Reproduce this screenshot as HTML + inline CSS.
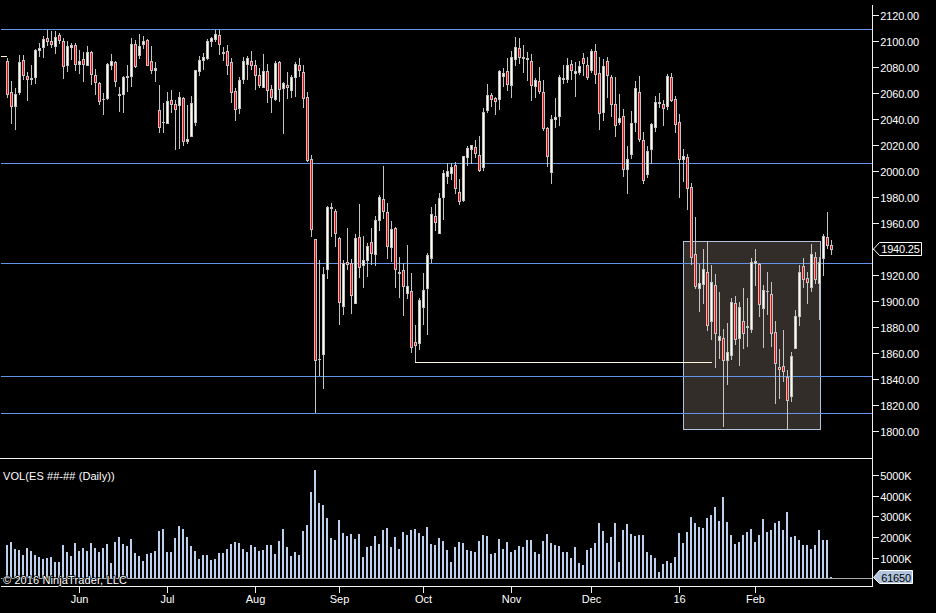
<!DOCTYPE html>
<html><head><meta charset="utf-8"><title>Chart</title>
<style>html,body{margin:0;padding:0;background:#000;overflow:hidden}svg{display:block}text{font-family:"Liberation Sans",Arial,sans-serif;font-size:11px;fill:#fff}</style></head><body>
<svg width="936" height="613" viewBox="0 0 936 613">
<rect x="0" y="0" width="936" height="613" fill="#000"/>
<g shape-rendering="crispEdges">
<rect x="683" y="241" width="138" height="189" fill="#b0c4de"/>
<rect x="684" y="242" width="136" height="187" fill="#322d28"/>
<rect x="1" y="29" width="871" height="1" fill="#6495ed"/>
<rect x="1" y="163" width="871" height="1" fill="#6495ed"/>
<rect x="1" y="263" width="871" height="1" fill="#6495ed"/>
<rect x="1" y="376" width="871" height="1" fill="#6495ed"/>
<rect x="1" y="413" width="871" height="1" fill="#6495ed"/>
<rect x="415" y="362" width="297" height="1" fill="#fff8dc"/>
<rect x="1" y="56" width="6" height="1" fill="#fff8dc"/>
<rect x="7" y="58" width="1" height="40" fill="#c4c4c4"/>
<rect x="6" y="61" width="3" height="34" fill="#c4c4c4"/>
<rect x="7" y="62" width="1" height="32" fill="#ff0000"/>
<rect x="11" y="81" width="1" height="43" fill="#c4c4c4"/>
<rect x="10" y="92" width="3" height="15" fill="#c4c4c4"/>
<rect x="11" y="93" width="1" height="13" fill="#ff0000"/>
<rect x="15" y="88" width="1" height="42" fill="#c4c4c4"/>
<rect x="14" y="94" width="3" height="13" fill="#c4c4c4"/>
<rect x="15" y="95" width="1" height="11" fill="#fffff0"/>
<rect x="19" y="55" width="1" height="40" fill="#c4c4c4"/>
<rect x="18" y="62" width="3" height="31" fill="#c4c4c4"/>
<rect x="19" y="63" width="1" height="29" fill="#fffff0"/>
<rect x="23" y="55" width="1" height="25" fill="#c4c4c4"/>
<rect x="22" y="60" width="3" height="16" fill="#c4c4c4"/>
<rect x="23" y="61" width="1" height="14" fill="#ff0000"/>
<rect x="27" y="72" width="1" height="29" fill="#c4c4c4"/>
<rect x="26" y="76" width="3" height="4" fill="#c4c4c4"/>
<rect x="27" y="77" width="1" height="2" fill="#ff0000"/>
<rect x="31" y="65" width="1" height="20" fill="#c4c4c4"/>
<rect x="30" y="78" width="3" height="2" fill="#c4c4c4"/>
<rect x="35" y="49" width="1" height="35" fill="#c4c4c4"/>
<rect x="34" y="50" width="3" height="28" fill="#c4c4c4"/>
<rect x="35" y="51" width="1" height="26" fill="#fffff0"/>
<rect x="39" y="43" width="1" height="14" fill="#c4c4c4"/>
<rect x="38" y="48" width="3" height="3" fill="#c4c4c4"/>
<rect x="39" y="49" width="1" height="1" fill="#fffff0"/>
<rect x="43" y="36" width="1" height="22" fill="#c4c4c4"/>
<rect x="42" y="39" width="3" height="9" fill="#c4c4c4"/>
<rect x="43" y="40" width="1" height="7" fill="#fffff0"/>
<rect x="47" y="30" width="1" height="16" fill="#c4c4c4"/>
<rect x="46" y="38" width="3" height="4" fill="#c4c4c4"/>
<rect x="47" y="39" width="1" height="2" fill="#ff0000"/>
<rect x="51" y="31" width="1" height="17" fill="#c4c4c4"/>
<rect x="50" y="41" width="3" height="4" fill="#c4c4c4"/>
<rect x="51" y="42" width="1" height="2" fill="#ff0000"/>
<rect x="55" y="31" width="1" height="23" fill="#c4c4c4"/>
<rect x="54" y="37" width="3" height="10" fill="#c4c4c4"/>
<rect x="55" y="38" width="1" height="8" fill="#fffff0"/>
<rect x="59" y="33" width="1" height="11" fill="#c4c4c4"/>
<rect x="58" y="35" width="3" height="6" fill="#c4c4c4"/>
<rect x="59" y="36" width="1" height="4" fill="#ff0000"/>
<rect x="63" y="38" width="1" height="41" fill="#c4c4c4"/>
<rect x="62" y="41" width="3" height="26" fill="#c4c4c4"/>
<rect x="63" y="42" width="1" height="24" fill="#ff0000"/>
<rect x="67" y="41" width="1" height="31" fill="#c4c4c4"/>
<rect x="66" y="46" width="3" height="20" fill="#c4c4c4"/>
<rect x="67" y="47" width="1" height="18" fill="#fffff0"/>
<rect x="71" y="43" width="1" height="17" fill="#c4c4c4"/>
<rect x="70" y="45" width="3" height="3" fill="#c4c4c4"/>
<rect x="71" y="46" width="1" height="1" fill="#fffff0"/>
<rect x="75" y="43" width="1" height="28" fill="#c4c4c4"/>
<rect x="74" y="45" width="3" height="20" fill="#c4c4c4"/>
<rect x="75" y="46" width="1" height="18" fill="#ff0000"/>
<rect x="79" y="50" width="1" height="24" fill="#c4c4c4"/>
<rect x="78" y="61" width="3" height="4" fill="#c4c4c4"/>
<rect x="79" y="62" width="1" height="2" fill="#fffff0"/>
<rect x="83" y="52" width="1" height="30" fill="#c4c4c4"/>
<rect x="82" y="59" width="3" height="6" fill="#c4c4c4"/>
<rect x="83" y="60" width="1" height="4" fill="#ff0000"/>
<rect x="87" y="46" width="1" height="20" fill="#c4c4c4"/>
<rect x="86" y="52" width="3" height="14" fill="#c4c4c4"/>
<rect x="87" y="53" width="1" height="12" fill="#fffff0"/>
<rect x="91" y="51" width="1" height="34" fill="#c4c4c4"/>
<rect x="90" y="52" width="3" height="23" fill="#c4c4c4"/>
<rect x="91" y="53" width="1" height="21" fill="#ff0000"/>
<rect x="95" y="69" width="1" height="26" fill="#c4c4c4"/>
<rect x="94" y="75" width="3" height="8" fill="#c4c4c4"/>
<rect x="95" y="76" width="1" height="6" fill="#ff0000"/>
<rect x="99" y="82" width="1" height="23" fill="#c4c4c4"/>
<rect x="98" y="83" width="3" height="19" fill="#c4c4c4"/>
<rect x="99" y="84" width="1" height="17" fill="#ff0000"/>
<rect x="103" y="93" width="1" height="22" fill="#c4c4c4"/>
<rect x="102" y="99" width="3" height="1" fill="#c4c4c4"/>
<rect x="107" y="63" width="1" height="37" fill="#c4c4c4"/>
<rect x="106" y="64" width="3" height="35" fill="#c4c4c4"/>
<rect x="107" y="65" width="1" height="33" fill="#fffff0"/>
<rect x="111" y="54" width="1" height="16" fill="#c4c4c4"/>
<rect x="110" y="61" width="3" height="5" fill="#c4c4c4"/>
<rect x="111" y="62" width="1" height="3" fill="#fffff0"/>
<rect x="115" y="61" width="1" height="26" fill="#c4c4c4"/>
<rect x="114" y="62" width="3" height="20" fill="#c4c4c4"/>
<rect x="115" y="63" width="1" height="18" fill="#ff0000"/>
<rect x="119" y="87" width="1" height="25" fill="#c4c4c4"/>
<rect x="118" y="94" width="3" height="2" fill="#c4c4c4"/>
<rect x="123" y="76" width="1" height="37" fill="#c4c4c4"/>
<rect x="122" y="77" width="3" height="18" fill="#c4c4c4"/>
<rect x="123" y="78" width="1" height="16" fill="#fffff0"/>
<rect x="127" y="65" width="1" height="27" fill="#c4c4c4"/>
<rect x="126" y="76" width="3" height="2" fill="#c4c4c4"/>
<rect x="131" y="38" width="1" height="49" fill="#c4c4c4"/>
<rect x="130" y="44" width="3" height="33" fill="#c4c4c4"/>
<rect x="131" y="45" width="1" height="31" fill="#fffff0"/>
<rect x="135" y="40" width="1" height="28" fill="#c4c4c4"/>
<rect x="134" y="44" width="3" height="23" fill="#c4c4c4"/>
<rect x="135" y="45" width="1" height="21" fill="#ff0000"/>
<rect x="139" y="34" width="1" height="25" fill="#c4c4c4"/>
<rect x="138" y="46" width="3" height="10" fill="#c4c4c4"/>
<rect x="139" y="47" width="1" height="8" fill="#fffff0"/>
<rect x="143" y="36" width="1" height="13" fill="#c4c4c4"/>
<rect x="142" y="41" width="3" height="4" fill="#c4c4c4"/>
<rect x="143" y="42" width="1" height="2" fill="#fffff0"/>
<rect x="147" y="39" width="1" height="27" fill="#c4c4c4"/>
<rect x="146" y="40" width="3" height="26" fill="#c4c4c4"/>
<rect x="147" y="41" width="1" height="24" fill="#ff0000"/>
<rect x="151" y="46" width="1" height="28" fill="#c4c4c4"/>
<rect x="150" y="61" width="3" height="10" fill="#c4c4c4"/>
<rect x="151" y="62" width="1" height="8" fill="#ff0000"/>
<rect x="155" y="62" width="1" height="20" fill="#c4c4c4"/>
<rect x="154" y="68" width="3" height="3" fill="#c4c4c4"/>
<rect x="155" y="69" width="1" height="1" fill="#fffff0"/>
<rect x="159" y="85" width="1" height="48" fill="#c4c4c4"/>
<rect x="158" y="110" width="3" height="18" fill="#c4c4c4"/>
<rect x="159" y="111" width="1" height="16" fill="#ff0000"/>
<rect x="163" y="103" width="1" height="30" fill="#c4c4c4"/>
<rect x="162" y="122" width="3" height="1" fill="#c4c4c4"/>
<rect x="167" y="92" width="1" height="32" fill="#c4c4c4"/>
<rect x="166" y="101" width="3" height="23" fill="#c4c4c4"/>
<rect x="167" y="102" width="1" height="21" fill="#fffff0"/>
<rect x="171" y="90" width="1" height="23" fill="#c4c4c4"/>
<rect x="170" y="100" width="3" height="5" fill="#c4c4c4"/>
<rect x="171" y="101" width="1" height="3" fill="#ff0000"/>
<rect x="175" y="100" width="1" height="50" fill="#c4c4c4"/>
<rect x="174" y="104" width="3" height="6" fill="#c4c4c4"/>
<rect x="175" y="105" width="1" height="4" fill="#ff0000"/>
<rect x="179" y="92" width="1" height="57" fill="#c4c4c4"/>
<rect x="178" y="97" width="3" height="9" fill="#c4c4c4"/>
<rect x="179" y="98" width="1" height="7" fill="#fffff0"/>
<rect x="183" y="97" width="1" height="49" fill="#c4c4c4"/>
<rect x="182" y="98" width="3" height="44" fill="#c4c4c4"/>
<rect x="183" y="99" width="1" height="42" fill="#ff0000"/>
<rect x="187" y="105" width="1" height="39" fill="#c4c4c4"/>
<rect x="186" y="139" width="3" height="3" fill="#c4c4c4"/>
<rect x="187" y="140" width="1" height="1" fill="#fffff0"/>
<rect x="191" y="96" width="1" height="41" fill="#c4c4c4"/>
<rect x="190" y="103" width="3" height="34" fill="#c4c4c4"/>
<rect x="191" y="104" width="1" height="32" fill="#fffff0"/>
<rect x="195" y="70" width="1" height="56" fill="#c4c4c4"/>
<rect x="194" y="70" width="3" height="53" fill="#c4c4c4"/>
<rect x="195" y="71" width="1" height="51" fill="#fffff0"/>
<rect x="199" y="56" width="1" height="20" fill="#c4c4c4"/>
<rect x="198" y="60" width="3" height="12" fill="#c4c4c4"/>
<rect x="199" y="61" width="1" height="10" fill="#fffff0"/>
<rect x="203" y="53" width="1" height="17" fill="#c4c4c4"/>
<rect x="202" y="57" width="3" height="4" fill="#c4c4c4"/>
<rect x="203" y="58" width="1" height="2" fill="#fffff0"/>
<rect x="207" y="39" width="1" height="21" fill="#c4c4c4"/>
<rect x="206" y="41" width="3" height="18" fill="#c4c4c4"/>
<rect x="207" y="42" width="1" height="16" fill="#fffff0"/>
<rect x="211" y="37" width="1" height="10" fill="#c4c4c4"/>
<rect x="210" y="38" width="3" height="4" fill="#c4c4c4"/>
<rect x="211" y="39" width="1" height="2" fill="#fffff0"/>
<rect x="215" y="30" width="1" height="12" fill="#c4c4c4"/>
<rect x="214" y="34" width="3" height="6" fill="#c4c4c4"/>
<rect x="215" y="35" width="1" height="4" fill="#fffff0"/>
<rect x="219" y="30" width="1" height="25" fill="#c4c4c4"/>
<rect x="218" y="35" width="3" height="10" fill="#c4c4c4"/>
<rect x="219" y="36" width="1" height="8" fill="#ff0000"/>
<rect x="223" y="47" width="1" height="14" fill="#c4c4c4"/>
<rect x="222" y="52" width="3" height="2" fill="#c4c4c4"/>
<rect x="227" y="45" width="1" height="30" fill="#c4c4c4"/>
<rect x="226" y="51" width="3" height="15" fill="#c4c4c4"/>
<rect x="227" y="52" width="1" height="13" fill="#ff0000"/>
<rect x="231" y="58" width="1" height="45" fill="#c4c4c4"/>
<rect x="230" y="62" width="3" height="31" fill="#c4c4c4"/>
<rect x="231" y="63" width="1" height="29" fill="#ff0000"/>
<rect x="235" y="88" width="1" height="33" fill="#c4c4c4"/>
<rect x="234" y="91" width="3" height="19" fill="#c4c4c4"/>
<rect x="235" y="92" width="1" height="17" fill="#ff0000"/>
<rect x="239" y="77" width="1" height="37" fill="#c4c4c4"/>
<rect x="238" y="80" width="3" height="29" fill="#c4c4c4"/>
<rect x="239" y="81" width="1" height="27" fill="#fffff0"/>
<rect x="243" y="57" width="1" height="27" fill="#c4c4c4"/>
<rect x="242" y="61" width="3" height="19" fill="#c4c4c4"/>
<rect x="243" y="62" width="1" height="17" fill="#fffff0"/>
<rect x="247" y="56" width="1" height="24" fill="#c4c4c4"/>
<rect x="246" y="58" width="3" height="7" fill="#c4c4c4"/>
<rect x="247" y="59" width="1" height="5" fill="#fffff0"/>
<rect x="251" y="51" width="1" height="19" fill="#c4c4c4"/>
<rect x="250" y="61" width="3" height="5" fill="#c4c4c4"/>
<rect x="251" y="62" width="1" height="3" fill="#ff0000"/>
<rect x="255" y="60" width="1" height="30" fill="#c4c4c4"/>
<rect x="254" y="65" width="3" height="11" fill="#c4c4c4"/>
<rect x="255" y="66" width="1" height="9" fill="#ff0000"/>
<rect x="259" y="68" width="1" height="20" fill="#c4c4c4"/>
<rect x="258" y="75" width="3" height="11" fill="#c4c4c4"/>
<rect x="259" y="76" width="1" height="9" fill="#ff0000"/>
<rect x="263" y="54" width="1" height="34" fill="#c4c4c4"/>
<rect x="262" y="71" width="3" height="17" fill="#c4c4c4"/>
<rect x="263" y="72" width="1" height="15" fill="#fffff0"/>
<rect x="267" y="64" width="1" height="39" fill="#c4c4c4"/>
<rect x="266" y="71" width="3" height="20" fill="#c4c4c4"/>
<rect x="267" y="72" width="1" height="18" fill="#ff0000"/>
<rect x="271" y="85" width="1" height="28" fill="#c4c4c4"/>
<rect x="270" y="89" width="3" height="9" fill="#c4c4c4"/>
<rect x="271" y="90" width="1" height="7" fill="#ff0000"/>
<rect x="275" y="61" width="1" height="40" fill="#c4c4c4"/>
<rect x="274" y="63" width="3" height="37" fill="#c4c4c4"/>
<rect x="275" y="64" width="1" height="35" fill="#fffff0"/>
<rect x="279" y="61" width="1" height="41" fill="#c4c4c4"/>
<rect x="278" y="62" width="3" height="28" fill="#c4c4c4"/>
<rect x="279" y="63" width="1" height="26" fill="#ff0000"/>
<rect x="283" y="82" width="1" height="52" fill="#c4c4c4"/>
<rect x="282" y="83" width="3" height="6" fill="#c4c4c4"/>
<rect x="283" y="84" width="1" height="4" fill="#fffff0"/>
<rect x="287" y="72" width="1" height="27" fill="#c4c4c4"/>
<rect x="286" y="85" width="3" height="3" fill="#c4c4c4"/>
<rect x="287" y="86" width="1" height="1" fill="#ff0000"/>
<rect x="291" y="75" width="1" height="23" fill="#c4c4c4"/>
<rect x="290" y="77" width="3" height="14" fill="#c4c4c4"/>
<rect x="291" y="78" width="1" height="12" fill="#fffff0"/>
<rect x="295" y="62" width="1" height="35" fill="#c4c4c4"/>
<rect x="294" y="64" width="3" height="14" fill="#c4c4c4"/>
<rect x="295" y="65" width="1" height="12" fill="#fffff0"/>
<rect x="299" y="58" width="1" height="19" fill="#c4c4c4"/>
<rect x="298" y="65" width="3" height="6" fill="#c4c4c4"/>
<rect x="299" y="66" width="1" height="4" fill="#ff0000"/>
<rect x="303" y="65" width="1" height="43" fill="#c4c4c4"/>
<rect x="302" y="72" width="3" height="27" fill="#c4c4c4"/>
<rect x="303" y="73" width="1" height="25" fill="#ff0000"/>
<rect x="307" y="92" width="1" height="70" fill="#c4c4c4"/>
<rect x="306" y="97" width="3" height="64" fill="#c4c4c4"/>
<rect x="307" y="98" width="1" height="62" fill="#ff0000"/>
<rect x="311" y="155" width="1" height="82" fill="#c4c4c4"/>
<rect x="310" y="159" width="3" height="71" fill="#c4c4c4"/>
<rect x="311" y="160" width="1" height="69" fill="#ff0000"/>
<rect x="315" y="239" width="1" height="174" fill="#c4c4c4"/>
<rect x="314" y="239" width="3" height="122" fill="#c4c4c4"/>
<rect x="315" y="240" width="1" height="120" fill="#ff0000"/>
<rect x="319" y="260" width="1" height="116" fill="#c4c4c4"/>
<rect x="318" y="359" width="3" height="1" fill="#c4c4c4"/>
<rect x="323" y="267" width="1" height="122" fill="#c4c4c4"/>
<rect x="322" y="274" width="3" height="81" fill="#c4c4c4"/>
<rect x="323" y="275" width="1" height="79" fill="#fffff0"/>
<rect x="327" y="206" width="1" height="73" fill="#c4c4c4"/>
<rect x="326" y="207" width="3" height="63" fill="#c4c4c4"/>
<rect x="327" y="208" width="1" height="61" fill="#fffff0"/>
<rect x="331" y="203" width="1" height="34" fill="#c4c4c4"/>
<rect x="330" y="207" width="3" height="2" fill="#c4c4c4"/>
<rect x="335" y="209" width="1" height="38" fill="#c4c4c4"/>
<rect x="334" y="211" width="3" height="23" fill="#c4c4c4"/>
<rect x="335" y="212" width="1" height="21" fill="#ff0000"/>
<rect x="339" y="237" width="1" height="88" fill="#c4c4c4"/>
<rect x="338" y="238" width="3" height="65" fill="#c4c4c4"/>
<rect x="339" y="239" width="1" height="63" fill="#ff0000"/>
<rect x="343" y="260" width="1" height="55" fill="#c4c4c4"/>
<rect x="342" y="263" width="3" height="44" fill="#c4c4c4"/>
<rect x="343" y="264" width="1" height="42" fill="#fffff0"/>
<rect x="347" y="228" width="1" height="42" fill="#c4c4c4"/>
<rect x="346" y="262" width="3" height="3" fill="#c4c4c4"/>
<rect x="347" y="263" width="1" height="1" fill="#ff0000"/>
<rect x="351" y="259" width="1" height="55" fill="#c4c4c4"/>
<rect x="350" y="263" width="3" height="33" fill="#c4c4c4"/>
<rect x="351" y="264" width="1" height="31" fill="#ff0000"/>
<rect x="355" y="234" width="1" height="70" fill="#c4c4c4"/>
<rect x="354" y="238" width="3" height="66" fill="#c4c4c4"/>
<rect x="355" y="239" width="1" height="64" fill="#fffff0"/>
<rect x="359" y="204" width="1" height="74" fill="#c4c4c4"/>
<rect x="358" y="237" width="3" height="31" fill="#c4c4c4"/>
<rect x="359" y="238" width="1" height="29" fill="#ff0000"/>
<rect x="363" y="236" width="1" height="52" fill="#c4c4c4"/>
<rect x="362" y="260" width="3" height="6" fill="#c4c4c4"/>
<rect x="363" y="261" width="1" height="4" fill="#fffff0"/>
<rect x="367" y="243" width="1" height="34" fill="#c4c4c4"/>
<rect x="366" y="246" width="3" height="15" fill="#c4c4c4"/>
<rect x="367" y="247" width="1" height="13" fill="#fffff0"/>
<rect x="371" y="228" width="1" height="37" fill="#c4c4c4"/>
<rect x="370" y="242" width="3" height="12" fill="#c4c4c4"/>
<rect x="371" y="243" width="1" height="10" fill="#ff0000"/>
<rect x="375" y="216" width="1" height="50" fill="#c4c4c4"/>
<rect x="374" y="220" width="3" height="35" fill="#c4c4c4"/>
<rect x="375" y="221" width="1" height="33" fill="#fffff0"/>
<rect x="379" y="195" width="1" height="36" fill="#c4c4c4"/>
<rect x="378" y="197" width="3" height="24" fill="#c4c4c4"/>
<rect x="379" y="198" width="1" height="22" fill="#fffff0"/>
<rect x="383" y="166" width="1" height="53" fill="#c4c4c4"/>
<rect x="382" y="199" width="3" height="13" fill="#c4c4c4"/>
<rect x="383" y="200" width="1" height="11" fill="#ff0000"/>
<rect x="387" y="203" width="1" height="56" fill="#c4c4c4"/>
<rect x="386" y="212" width="3" height="35" fill="#c4c4c4"/>
<rect x="387" y="213" width="1" height="33" fill="#ff0000"/>
<rect x="391" y="221" width="1" height="41" fill="#c4c4c4"/>
<rect x="390" y="229" width="3" height="19" fill="#c4c4c4"/>
<rect x="391" y="230" width="1" height="17" fill="#fffff0"/>
<rect x="395" y="227" width="1" height="61" fill="#c4c4c4"/>
<rect x="394" y="228" width="3" height="42" fill="#c4c4c4"/>
<rect x="395" y="229" width="1" height="40" fill="#ff0000"/>
<rect x="399" y="257" width="1" height="41" fill="#c4c4c4"/>
<rect x="398" y="272" width="3" height="2" fill="#c4c4c4"/>
<rect x="403" y="263" width="1" height="53" fill="#c4c4c4"/>
<rect x="402" y="270" width="3" height="17" fill="#c4c4c4"/>
<rect x="403" y="271" width="1" height="15" fill="#ff0000"/>
<rect x="407" y="245" width="1" height="54" fill="#c4c4c4"/>
<rect x="406" y="286" width="3" height="8" fill="#c4c4c4"/>
<rect x="407" y="287" width="1" height="6" fill="#fffff0"/>
<rect x="411" y="273" width="1" height="80" fill="#c4c4c4"/>
<rect x="410" y="291" width="3" height="57" fill="#c4c4c4"/>
<rect x="411" y="292" width="1" height="55" fill="#ff0000"/>
<rect x="415" y="325" width="1" height="37" fill="#c4c4c4"/>
<rect x="414" y="342" width="3" height="4" fill="#c4c4c4"/>
<rect x="415" y="343" width="1" height="2" fill="#ff0000"/>
<rect x="419" y="298" width="1" height="52" fill="#c4c4c4"/>
<rect x="418" y="300" width="3" height="44" fill="#c4c4c4"/>
<rect x="419" y="301" width="1" height="42" fill="#fffff0"/>
<rect x="423" y="273" width="1" height="52" fill="#c4c4c4"/>
<rect x="422" y="290" width="3" height="18" fill="#c4c4c4"/>
<rect x="423" y="291" width="1" height="16" fill="#fffff0"/>
<rect x="427" y="253" width="1" height="82" fill="#c4c4c4"/>
<rect x="426" y="255" width="3" height="34" fill="#c4c4c4"/>
<rect x="427" y="256" width="1" height="32" fill="#fffff0"/>
<rect x="431" y="207" width="1" height="56" fill="#c4c4c4"/>
<rect x="430" y="214" width="3" height="45" fill="#c4c4c4"/>
<rect x="431" y="215" width="1" height="43" fill="#fffff0"/>
<rect x="435" y="204" width="1" height="27" fill="#c4c4c4"/>
<rect x="434" y="216" width="3" height="7" fill="#c4c4c4"/>
<rect x="435" y="217" width="1" height="5" fill="#ff0000"/>
<rect x="439" y="193" width="1" height="41" fill="#c4c4c4"/>
<rect x="438" y="198" width="3" height="36" fill="#c4c4c4"/>
<rect x="439" y="199" width="1" height="34" fill="#fffff0"/>
<rect x="443" y="170" width="1" height="50" fill="#c4c4c4"/>
<rect x="442" y="173" width="3" height="25" fill="#c4c4c4"/>
<rect x="443" y="174" width="1" height="23" fill="#fffff0"/>
<rect x="447" y="163" width="1" height="21" fill="#c4c4c4"/>
<rect x="446" y="171" width="3" height="6" fill="#c4c4c4"/>
<rect x="447" y="172" width="1" height="4" fill="#fffff0"/>
<rect x="451" y="163" width="1" height="17" fill="#c4c4c4"/>
<rect x="450" y="167" width="3" height="7" fill="#c4c4c4"/>
<rect x="451" y="168" width="1" height="5" fill="#fffff0"/>
<rect x="455" y="162" width="1" height="32" fill="#c4c4c4"/>
<rect x="454" y="165" width="3" height="24" fill="#c4c4c4"/>
<rect x="455" y="166" width="1" height="22" fill="#ff0000"/>
<rect x="459" y="179" width="1" height="26" fill="#c4c4c4"/>
<rect x="458" y="192" width="3" height="10" fill="#c4c4c4"/>
<rect x="459" y="193" width="1" height="8" fill="#ff0000"/>
<rect x="463" y="156" width="1" height="46" fill="#c4c4c4"/>
<rect x="462" y="156" width="3" height="45" fill="#c4c4c4"/>
<rect x="463" y="157" width="1" height="43" fill="#fffff0"/>
<rect x="467" y="146" width="1" height="20" fill="#c4c4c4"/>
<rect x="466" y="148" width="3" height="10" fill="#c4c4c4"/>
<rect x="467" y="149" width="1" height="8" fill="#fffff0"/>
<rect x="471" y="145" width="1" height="19" fill="#c4c4c4"/>
<rect x="470" y="145" width="3" height="5" fill="#c4c4c4"/>
<rect x="471" y="146" width="1" height="3" fill="#fffff0"/>
<rect x="475" y="140" width="1" height="18" fill="#c4c4c4"/>
<rect x="474" y="147" width="3" height="7" fill="#c4c4c4"/>
<rect x="475" y="148" width="1" height="5" fill="#ff0000"/>
<rect x="479" y="136" width="1" height="36" fill="#c4c4c4"/>
<rect x="478" y="155" width="3" height="16" fill="#c4c4c4"/>
<rect x="479" y="156" width="1" height="14" fill="#ff0000"/>
<rect x="483" y="108" width="1" height="63" fill="#c4c4c4"/>
<rect x="482" y="112" width="3" height="56" fill="#c4c4c4"/>
<rect x="483" y="113" width="1" height="54" fill="#fffff0"/>
<rect x="487" y="84" width="1" height="29" fill="#c4c4c4"/>
<rect x="486" y="95" width="3" height="16" fill="#c4c4c4"/>
<rect x="487" y="96" width="1" height="14" fill="#fffff0"/>
<rect x="491" y="93" width="1" height="14" fill="#c4c4c4"/>
<rect x="490" y="95" width="3" height="5" fill="#c4c4c4"/>
<rect x="491" y="96" width="1" height="3" fill="#ff0000"/>
<rect x="495" y="97" width="1" height="18" fill="#c4c4c4"/>
<rect x="494" y="98" width="3" height="4" fill="#c4c4c4"/>
<rect x="495" y="99" width="1" height="2" fill="#ff0000"/>
<rect x="499" y="70" width="1" height="40" fill="#c4c4c4"/>
<rect x="498" y="71" width="3" height="29" fill="#c4c4c4"/>
<rect x="499" y="72" width="1" height="27" fill="#fffff0"/>
<rect x="503" y="68" width="1" height="19" fill="#c4c4c4"/>
<rect x="502" y="73" width="3" height="4" fill="#c4c4c4"/>
<rect x="503" y="74" width="1" height="2" fill="#fffff0"/>
<rect x="507" y="58" width="1" height="33" fill="#c4c4c4"/>
<rect x="506" y="71" width="3" height="14" fill="#c4c4c4"/>
<rect x="507" y="72" width="1" height="12" fill="#ff0000"/>
<rect x="511" y="51" width="1" height="47" fill="#c4c4c4"/>
<rect x="510" y="57" width="3" height="29" fill="#c4c4c4"/>
<rect x="511" y="58" width="1" height="27" fill="#fffff0"/>
<rect x="515" y="37" width="1" height="29" fill="#c4c4c4"/>
<rect x="514" y="47" width="3" height="13" fill="#c4c4c4"/>
<rect x="515" y="48" width="1" height="11" fill="#fffff0"/>
<rect x="519" y="38" width="1" height="26" fill="#c4c4c4"/>
<rect x="518" y="48" width="3" height="10" fill="#c4c4c4"/>
<rect x="519" y="49" width="1" height="8" fill="#ff0000"/>
<rect x="523" y="45" width="1" height="28" fill="#c4c4c4"/>
<rect x="522" y="57" width="3" height="2" fill="#c4c4c4"/>
<rect x="527" y="52" width="1" height="29" fill="#c4c4c4"/>
<rect x="526" y="58" width="3" height="2" fill="#c4c4c4"/>
<rect x="531" y="54" width="1" height="47" fill="#c4c4c4"/>
<rect x="530" y="61" width="3" height="25" fill="#c4c4c4"/>
<rect x="531" y="62" width="1" height="23" fill="#ff0000"/>
<rect x="535" y="78" width="1" height="20" fill="#c4c4c4"/>
<rect x="534" y="80" width="3" height="7" fill="#c4c4c4"/>
<rect x="535" y="81" width="1" height="5" fill="#fffff0"/>
<rect x="539" y="67" width="1" height="27" fill="#c4c4c4"/>
<rect x="538" y="81" width="3" height="11" fill="#c4c4c4"/>
<rect x="539" y="82" width="1" height="9" fill="#ff0000"/>
<rect x="543" y="80" width="1" height="51" fill="#c4c4c4"/>
<rect x="542" y="92" width="3" height="37" fill="#c4c4c4"/>
<rect x="543" y="93" width="1" height="35" fill="#ff0000"/>
<rect x="547" y="127" width="1" height="40" fill="#c4c4c4"/>
<rect x="546" y="128" width="3" height="29" fill="#c4c4c4"/>
<rect x="547" y="129" width="1" height="27" fill="#ff0000"/>
<rect x="551" y="115" width="1" height="69" fill="#c4c4c4"/>
<rect x="550" y="119" width="3" height="54" fill="#c4c4c4"/>
<rect x="551" y="120" width="1" height="52" fill="#fffff0"/>
<rect x="555" y="98" width="1" height="30" fill="#c4c4c4"/>
<rect x="554" y="117" width="3" height="3" fill="#c4c4c4"/>
<rect x="555" y="118" width="1" height="1" fill="#fffff0"/>
<rect x="559" y="75" width="1" height="51" fill="#c4c4c4"/>
<rect x="558" y="77" width="3" height="40" fill="#c4c4c4"/>
<rect x="559" y="78" width="1" height="38" fill="#fffff0"/>
<rect x="563" y="65" width="1" height="19" fill="#c4c4c4"/>
<rect x="562" y="78" width="3" height="2" fill="#c4c4c4"/>
<rect x="567" y="58" width="1" height="25" fill="#c4c4c4"/>
<rect x="566" y="65" width="3" height="15" fill="#c4c4c4"/>
<rect x="567" y="66" width="1" height="13" fill="#fffff0"/>
<rect x="571" y="60" width="1" height="20" fill="#c4c4c4"/>
<rect x="570" y="64" width="3" height="7" fill="#c4c4c4"/>
<rect x="571" y="65" width="1" height="5" fill="#ff0000"/>
<rect x="575" y="62" width="1" height="35" fill="#c4c4c4"/>
<rect x="574" y="71" width="3" height="3" fill="#c4c4c4"/>
<rect x="575" y="72" width="1" height="1" fill="#fffff0"/>
<rect x="579" y="61" width="1" height="14" fill="#c4c4c4"/>
<rect x="578" y="66" width="3" height="7" fill="#c4c4c4"/>
<rect x="579" y="67" width="1" height="5" fill="#fffff0"/>
<rect x="583" y="53" width="1" height="23" fill="#c4c4c4"/>
<rect x="582" y="58" width="3" height="6" fill="#c4c4c4"/>
<rect x="583" y="59" width="1" height="4" fill="#ff0000"/>
<rect x="587" y="57" width="1" height="23" fill="#c4c4c4"/>
<rect x="586" y="65" width="3" height="13" fill="#c4c4c4"/>
<rect x="587" y="66" width="1" height="11" fill="#ff0000"/>
<rect x="591" y="49" width="1" height="24" fill="#c4c4c4"/>
<rect x="590" y="51" width="3" height="20" fill="#c4c4c4"/>
<rect x="591" y="52" width="1" height="18" fill="#fffff0"/>
<rect x="595" y="44" width="1" height="40" fill="#c4c4c4"/>
<rect x="594" y="51" width="3" height="24" fill="#c4c4c4"/>
<rect x="595" y="52" width="1" height="22" fill="#ff0000"/>
<rect x="599" y="57" width="1" height="73" fill="#c4c4c4"/>
<rect x="598" y="73" width="3" height="41" fill="#c4c4c4"/>
<rect x="599" y="74" width="1" height="39" fill="#ff0000"/>
<rect x="603" y="59" width="1" height="62" fill="#c4c4c4"/>
<rect x="602" y="66" width="3" height="47" fill="#c4c4c4"/>
<rect x="603" y="67" width="1" height="45" fill="#fffff0"/>
<rect x="607" y="57" width="1" height="41" fill="#c4c4c4"/>
<rect x="606" y="61" width="3" height="15" fill="#c4c4c4"/>
<rect x="607" y="62" width="1" height="13" fill="#ff0000"/>
<rect x="611" y="75" width="1" height="42" fill="#c4c4c4"/>
<rect x="610" y="77" width="3" height="28" fill="#c4c4c4"/>
<rect x="611" y="78" width="1" height="26" fill="#ff0000"/>
<rect x="615" y="77" width="1" height="60" fill="#c4c4c4"/>
<rect x="614" y="104" width="3" height="22" fill="#c4c4c4"/>
<rect x="615" y="105" width="1" height="20" fill="#ff0000"/>
<rect x="619" y="94" width="1" height="31" fill="#c4c4c4"/>
<rect x="618" y="118" width="3" height="5" fill="#c4c4c4"/>
<rect x="619" y="119" width="1" height="3" fill="#fffff0"/>
<rect x="623" y="109" width="1" height="68" fill="#c4c4c4"/>
<rect x="622" y="116" width="3" height="54" fill="#c4c4c4"/>
<rect x="623" y="117" width="1" height="52" fill="#ff0000"/>
<rect x="627" y="146" width="1" height="48" fill="#c4c4c4"/>
<rect x="626" y="159" width="3" height="11" fill="#c4c4c4"/>
<rect x="627" y="160" width="1" height="9" fill="#fffff0"/>
<rect x="631" y="111" width="1" height="48" fill="#c4c4c4"/>
<rect x="630" y="123" width="3" height="32" fill="#c4c4c4"/>
<rect x="631" y="124" width="1" height="30" fill="#fffff0"/>
<rect x="635" y="81" width="1" height="51" fill="#c4c4c4"/>
<rect x="634" y="88" width="3" height="35" fill="#c4c4c4"/>
<rect x="635" y="89" width="1" height="33" fill="#fffff0"/>
<rect x="639" y="76" width="1" height="66" fill="#c4c4c4"/>
<rect x="638" y="92" width="3" height="48" fill="#c4c4c4"/>
<rect x="639" y="93" width="1" height="46" fill="#ff0000"/>
<rect x="643" y="132" width="1" height="52" fill="#c4c4c4"/>
<rect x="642" y="140" width="3" height="41" fill="#c4c4c4"/>
<rect x="643" y="141" width="1" height="39" fill="#ff0000"/>
<rect x="647" y="146" width="1" height="32" fill="#c4c4c4"/>
<rect x="646" y="151" width="3" height="24" fill="#c4c4c4"/>
<rect x="647" y="152" width="1" height="22" fill="#fffff0"/>
<rect x="651" y="123" width="1" height="41" fill="#c4c4c4"/>
<rect x="650" y="124" width="3" height="26" fill="#c4c4c4"/>
<rect x="651" y="125" width="1" height="24" fill="#fffff0"/>
<rect x="655" y="96" width="1" height="36" fill="#c4c4c4"/>
<rect x="654" y="102" width="3" height="26" fill="#c4c4c4"/>
<rect x="655" y="103" width="1" height="24" fill="#fffff0"/>
<rect x="659" y="93" width="1" height="15" fill="#c4c4c4"/>
<rect x="658" y="102" width="3" height="2" fill="#c4c4c4"/>
<rect x="663" y="100" width="1" height="26" fill="#c4c4c4"/>
<rect x="662" y="104" width="3" height="5" fill="#c4c4c4"/>
<rect x="663" y="105" width="1" height="3" fill="#ff0000"/>
<rect x="667" y="74" width="1" height="36" fill="#c4c4c4"/>
<rect x="666" y="76" width="3" height="31" fill="#c4c4c4"/>
<rect x="667" y="77" width="1" height="29" fill="#fffff0"/>
<rect x="671" y="73" width="1" height="29" fill="#c4c4c4"/>
<rect x="670" y="77" width="3" height="24" fill="#c4c4c4"/>
<rect x="671" y="78" width="1" height="22" fill="#ff0000"/>
<rect x="675" y="96" width="1" height="37" fill="#c4c4c4"/>
<rect x="674" y="99" width="3" height="26" fill="#c4c4c4"/>
<rect x="675" y="100" width="1" height="24" fill="#ff0000"/>
<rect x="679" y="114" width="1" height="84" fill="#c4c4c4"/>
<rect x="678" y="122" width="3" height="38" fill="#c4c4c4"/>
<rect x="679" y="123" width="1" height="36" fill="#ff0000"/>
<rect x="683" y="149" width="1" height="33" fill="#c4c4c4"/>
<rect x="682" y="156" width="3" height="4" fill="#c4c4c4"/>
<rect x="683" y="157" width="1" height="2" fill="#fffff0"/>
<rect x="687" y="154" width="1" height="56" fill="#c4c4c4"/>
<rect x="686" y="157" width="3" height="32" fill="#c4c4c4"/>
<rect x="687" y="158" width="1" height="30" fill="#ff0000"/>
<rect x="691" y="183" width="1" height="82" fill="#c4c4c4"/>
<rect x="690" y="187" width="3" height="71" fill="#c4c4c4"/>
<rect x="691" y="188" width="1" height="69" fill="#ff0000"/>
<rect x="695" y="217" width="1" height="72" fill="#c4c4c4"/>
<rect x="694" y="254" width="3" height="33" fill="#c4c4c4"/>
<rect x="695" y="255" width="1" height="31" fill="#ff0000"/>
<rect x="699" y="264" width="1" height="48" fill="#c4c4c4"/>
<rect x="698" y="283" width="3" height="6" fill="#c4c4c4"/>
<rect x="699" y="284" width="1" height="4" fill="#fffff0"/>
<rect x="703" y="249" width="1" height="55" fill="#c4c4c4"/>
<rect x="702" y="269" width="3" height="16" fill="#c4c4c4"/>
<rect x="703" y="270" width="1" height="14" fill="#fffff0"/>
<rect x="707" y="242" width="1" height="89" fill="#c4c4c4"/>
<rect x="706" y="272" width="3" height="54" fill="#c4c4c4"/>
<rect x="707" y="273" width="1" height="52" fill="#ff0000"/>
<rect x="711" y="265" width="1" height="75" fill="#c4c4c4"/>
<rect x="710" y="282" width="3" height="40" fill="#c4c4c4"/>
<rect x="711" y="283" width="1" height="38" fill="#fffff0"/>
<rect x="715" y="274" width="1" height="94" fill="#c4c4c4"/>
<rect x="714" y="285" width="3" height="49" fill="#c4c4c4"/>
<rect x="715" y="286" width="1" height="47" fill="#ff0000"/>
<rect x="719" y="292" width="1" height="67" fill="#c4c4c4"/>
<rect x="718" y="336" width="3" height="5" fill="#c4c4c4"/>
<rect x="719" y="337" width="1" height="3" fill="#fffff0"/>
<rect x="723" y="329" width="1" height="98" fill="#c4c4c4"/>
<rect x="722" y="338" width="3" height="23" fill="#c4c4c4"/>
<rect x="723" y="339" width="1" height="21" fill="#ff0000"/>
<rect x="727" y="323" width="1" height="62" fill="#c4c4c4"/>
<rect x="726" y="352" width="3" height="9" fill="#c4c4c4"/>
<rect x="727" y="353" width="1" height="7" fill="#fffff0"/>
<rect x="731" y="298" width="1" height="62" fill="#c4c4c4"/>
<rect x="730" y="302" width="3" height="54" fill="#c4c4c4"/>
<rect x="731" y="303" width="1" height="52" fill="#fffff0"/>
<rect x="735" y="296" width="1" height="49" fill="#c4c4c4"/>
<rect x="734" y="303" width="3" height="37" fill="#c4c4c4"/>
<rect x="735" y="304" width="1" height="35" fill="#ff0000"/>
<rect x="739" y="302" width="1" height="64" fill="#c4c4c4"/>
<rect x="738" y="307" width="3" height="32" fill="#c4c4c4"/>
<rect x="739" y="308" width="1" height="30" fill="#fffff0"/>
<rect x="743" y="288" width="1" height="61" fill="#c4c4c4"/>
<rect x="742" y="321" width="3" height="13" fill="#c4c4c4"/>
<rect x="743" y="322" width="1" height="11" fill="#ff0000"/>
<rect x="747" y="298" width="1" height="49" fill="#c4c4c4"/>
<rect x="746" y="326" width="3" height="2" fill="#c4c4c4"/>
<rect x="751" y="258" width="1" height="75" fill="#c4c4c4"/>
<rect x="750" y="262" width="3" height="68" fill="#c4c4c4"/>
<rect x="751" y="263" width="1" height="66" fill="#fffff0"/>
<rect x="755" y="249" width="1" height="37" fill="#c4c4c4"/>
<rect x="754" y="261" width="3" height="3" fill="#c4c4c4"/>
<rect x="755" y="262" width="1" height="1" fill="#fffff0"/>
<rect x="759" y="263" width="1" height="54" fill="#c4c4c4"/>
<rect x="758" y="264" width="3" height="41" fill="#c4c4c4"/>
<rect x="759" y="265" width="1" height="39" fill="#ff0000"/>
<rect x="763" y="285" width="1" height="63" fill="#c4c4c4"/>
<rect x="762" y="290" width="3" height="19" fill="#c4c4c4"/>
<rect x="763" y="291" width="1" height="17" fill="#fffff0"/>
<rect x="767" y="272" width="1" height="43" fill="#c4c4c4"/>
<rect x="766" y="291" width="3" height="1" fill="#c4c4c4"/>
<rect x="771" y="282" width="1" height="65" fill="#c4c4c4"/>
<rect x="770" y="294" width="3" height="40" fill="#c4c4c4"/>
<rect x="771" y="295" width="1" height="38" fill="#ff0000"/>
<rect x="775" y="321" width="1" height="83" fill="#c4c4c4"/>
<rect x="774" y="332" width="3" height="32" fill="#c4c4c4"/>
<rect x="775" y="333" width="1" height="30" fill="#ff0000"/>
<rect x="779" y="349" width="1" height="50" fill="#c4c4c4"/>
<rect x="778" y="367" width="3" height="3" fill="#c4c4c4"/>
<rect x="779" y="368" width="1" height="1" fill="#ff0000"/>
<rect x="783" y="330" width="1" height="52" fill="#c4c4c4"/>
<rect x="782" y="366" width="3" height="6" fill="#c4c4c4"/>
<rect x="783" y="367" width="1" height="4" fill="#ff0000"/>
<rect x="787" y="370" width="1" height="60" fill="#c4c4c4"/>
<rect x="786" y="377" width="3" height="24" fill="#c4c4c4"/>
<rect x="787" y="378" width="1" height="22" fill="#ff0000"/>
<rect x="791" y="352" width="1" height="50" fill="#c4c4c4"/>
<rect x="790" y="356" width="3" height="41" fill="#c4c4c4"/>
<rect x="791" y="357" width="1" height="39" fill="#fffff0"/>
<rect x="795" y="310" width="1" height="39" fill="#c4c4c4"/>
<rect x="794" y="316" width="3" height="33" fill="#c4c4c4"/>
<rect x="795" y="317" width="1" height="31" fill="#fffff0"/>
<rect x="799" y="265" width="1" height="61" fill="#c4c4c4"/>
<rect x="798" y="272" width="3" height="45" fill="#c4c4c4"/>
<rect x="799" y="273" width="1" height="43" fill="#fffff0"/>
<rect x="803" y="258" width="1" height="30" fill="#c4c4c4"/>
<rect x="802" y="266" width="3" height="14" fill="#c4c4c4"/>
<rect x="803" y="267" width="1" height="12" fill="#ff0000"/>
<rect x="807" y="272" width="1" height="32" fill="#c4c4c4"/>
<rect x="806" y="278" width="3" height="5" fill="#c4c4c4"/>
<rect x="807" y="279" width="1" height="3" fill="#ff0000"/>
<rect x="811" y="244" width="1" height="48" fill="#c4c4c4"/>
<rect x="810" y="254" width="3" height="34" fill="#c4c4c4"/>
<rect x="811" y="255" width="1" height="32" fill="#fffff0"/>
<rect x="815" y="252" width="1" height="32" fill="#c4c4c4"/>
<rect x="814" y="257" width="3" height="23" fill="#c4c4c4"/>
<rect x="815" y="258" width="1" height="21" fill="#ff0000"/>
<rect x="819" y="257" width="1" height="63" fill="#c4c4c4"/>
<rect x="818" y="262" width="3" height="22" fill="#c4c4c4"/>
<rect x="819" y="263" width="1" height="20" fill="#fffff0"/>
<rect x="823" y="234" width="1" height="42" fill="#c4c4c4"/>
<rect x="822" y="236" width="3" height="23" fill="#c4c4c4"/>
<rect x="823" y="237" width="1" height="21" fill="#fffff0"/>
<rect x="827" y="212" width="1" height="37" fill="#c4c4c4"/>
<rect x="826" y="237" width="3" height="9" fill="#c4c4c4"/>
<rect x="827" y="238" width="1" height="7" fill="#ff0000"/>
<rect x="831" y="240" width="1" height="15" fill="#c4c4c4"/>
<rect x="830" y="245" width="3" height="5" fill="#c4c4c4"/>
<rect x="831" y="246" width="1" height="3" fill="#ff0000"/>
<rect x="6" y="545" width="2" height="33" fill="#bcd0ee"/>
<rect x="10" y="542" width="2" height="36" fill="#bcd0ee"/>
<rect x="14" y="549" width="2" height="29" fill="#bcd0ee"/>
<rect x="18" y="550" width="2" height="28" fill="#bcd0ee"/>
<rect x="22" y="555" width="2" height="23" fill="#bcd0ee"/>
<rect x="26" y="548" width="2" height="30" fill="#bcd0ee"/>
<rect x="30" y="551" width="2" height="27" fill="#bcd0ee"/>
<rect x="34" y="555" width="2" height="23" fill="#bcd0ee"/>
<rect x="38" y="557" width="2" height="21" fill="#bcd0ee"/>
<rect x="42" y="559" width="2" height="19" fill="#bcd0ee"/>
<rect x="46" y="558" width="2" height="20" fill="#bcd0ee"/>
<rect x="50" y="557" width="2" height="21" fill="#bcd0ee"/>
<rect x="54" y="562" width="2" height="16" fill="#bcd0ee"/>
<rect x="58" y="562" width="2" height="16" fill="#bcd0ee"/>
<rect x="62" y="545" width="2" height="33" fill="#bcd0ee"/>
<rect x="66" y="552" width="2" height="26" fill="#bcd0ee"/>
<rect x="70" y="556" width="2" height="22" fill="#bcd0ee"/>
<rect x="74" y="543" width="2" height="35" fill="#bcd0ee"/>
<rect x="78" y="551" width="2" height="27" fill="#bcd0ee"/>
<rect x="82" y="548" width="2" height="30" fill="#bcd0ee"/>
<rect x="86" y="551" width="2" height="27" fill="#bcd0ee"/>
<rect x="90" y="543" width="2" height="35" fill="#bcd0ee"/>
<rect x="94" y="548" width="2" height="30" fill="#bcd0ee"/>
<rect x="98" y="552" width="2" height="26" fill="#bcd0ee"/>
<rect x="102" y="548" width="2" height="30" fill="#bcd0ee"/>
<rect x="106" y="544" width="2" height="34" fill="#bcd0ee"/>
<rect x="110" y="563" width="2" height="15" fill="#bcd0ee"/>
<rect x="114" y="542" width="2" height="36" fill="#bcd0ee"/>
<rect x="118" y="537" width="2" height="41" fill="#bcd0ee"/>
<rect x="122" y="544" width="2" height="34" fill="#bcd0ee"/>
<rect x="126" y="546" width="2" height="32" fill="#bcd0ee"/>
<rect x="130" y="539" width="2" height="39" fill="#bcd0ee"/>
<rect x="134" y="553" width="2" height="25" fill="#bcd0ee"/>
<rect x="138" y="556" width="2" height="22" fill="#bcd0ee"/>
<rect x="142" y="561" width="2" height="17" fill="#bcd0ee"/>
<rect x="146" y="554" width="2" height="24" fill="#bcd0ee"/>
<rect x="150" y="553" width="2" height="25" fill="#bcd0ee"/>
<rect x="154" y="551" width="2" height="27" fill="#bcd0ee"/>
<rect x="158" y="531" width="2" height="47" fill="#bcd0ee"/>
<rect x="162" y="529" width="2" height="49" fill="#bcd0ee"/>
<rect x="166" y="552" width="2" height="26" fill="#bcd0ee"/>
<rect x="170" y="552" width="2" height="26" fill="#bcd0ee"/>
<rect x="174" y="538" width="2" height="40" fill="#bcd0ee"/>
<rect x="178" y="526" width="2" height="52" fill="#bcd0ee"/>
<rect x="182" y="529" width="2" height="49" fill="#bcd0ee"/>
<rect x="186" y="537" width="2" height="41" fill="#bcd0ee"/>
<rect x="190" y="546" width="2" height="32" fill="#bcd0ee"/>
<rect x="194" y="551" width="2" height="27" fill="#bcd0ee"/>
<rect x="198" y="559" width="2" height="19" fill="#bcd0ee"/>
<rect x="202" y="555" width="2" height="23" fill="#bcd0ee"/>
<rect x="206" y="555" width="2" height="23" fill="#bcd0ee"/>
<rect x="210" y="560" width="2" height="18" fill="#bcd0ee"/>
<rect x="214" y="559" width="2" height="19" fill="#bcd0ee"/>
<rect x="218" y="553" width="2" height="25" fill="#bcd0ee"/>
<rect x="222" y="553" width="2" height="25" fill="#bcd0ee"/>
<rect x="226" y="549" width="2" height="29" fill="#bcd0ee"/>
<rect x="230" y="544" width="2" height="34" fill="#bcd0ee"/>
<rect x="234" y="542" width="2" height="36" fill="#bcd0ee"/>
<rect x="238" y="543" width="2" height="35" fill="#bcd0ee"/>
<rect x="242" y="549" width="2" height="29" fill="#bcd0ee"/>
<rect x="246" y="552" width="2" height="26" fill="#bcd0ee"/>
<rect x="250" y="545" width="2" height="33" fill="#bcd0ee"/>
<rect x="254" y="547" width="2" height="31" fill="#bcd0ee"/>
<rect x="258" y="551" width="2" height="27" fill="#bcd0ee"/>
<rect x="262" y="550" width="2" height="28" fill="#bcd0ee"/>
<rect x="266" y="545" width="2" height="33" fill="#bcd0ee"/>
<rect x="270" y="545" width="2" height="33" fill="#bcd0ee"/>
<rect x="274" y="554" width="2" height="24" fill="#bcd0ee"/>
<rect x="278" y="541" width="2" height="37" fill="#bcd0ee"/>
<rect x="282" y="529" width="2" height="49" fill="#bcd0ee"/>
<rect x="286" y="547" width="2" height="31" fill="#bcd0ee"/>
<rect x="290" y="556" width="2" height="22" fill="#bcd0ee"/>
<rect x="294" y="552" width="2" height="26" fill="#bcd0ee"/>
<rect x="298" y="555" width="2" height="23" fill="#bcd0ee"/>
<rect x="302" y="531" width="2" height="47" fill="#bcd0ee"/>
<rect x="306" y="525" width="2" height="53" fill="#bcd0ee"/>
<rect x="310" y="492" width="2" height="86" fill="#bcd0ee"/>
<rect x="314" y="470" width="2" height="108" fill="#bcd0ee"/>
<rect x="318" y="503" width="2" height="75" fill="#bcd0ee"/>
<rect x="322" y="505" width="2" height="73" fill="#bcd0ee"/>
<rect x="326" y="518" width="2" height="60" fill="#bcd0ee"/>
<rect x="330" y="538" width="2" height="40" fill="#bcd0ee"/>
<rect x="334" y="540" width="2" height="38" fill="#bcd0ee"/>
<rect x="338" y="520" width="2" height="58" fill="#bcd0ee"/>
<rect x="342" y="533" width="2" height="45" fill="#bcd0ee"/>
<rect x="346" y="536" width="2" height="42" fill="#bcd0ee"/>
<rect x="350" y="534" width="2" height="44" fill="#bcd0ee"/>
<rect x="354" y="539" width="2" height="39" fill="#bcd0ee"/>
<rect x="358" y="534" width="2" height="44" fill="#bcd0ee"/>
<rect x="362" y="557" width="2" height="21" fill="#bcd0ee"/>
<rect x="366" y="547" width="2" height="31" fill="#bcd0ee"/>
<rect x="370" y="546" width="2" height="32" fill="#bcd0ee"/>
<rect x="374" y="536" width="2" height="42" fill="#bcd0ee"/>
<rect x="378" y="544" width="2" height="34" fill="#bcd0ee"/>
<rect x="382" y="530" width="2" height="48" fill="#bcd0ee"/>
<rect x="386" y="528" width="2" height="50" fill="#bcd0ee"/>
<rect x="390" y="547" width="2" height="31" fill="#bcd0ee"/>
<rect x="394" y="537" width="2" height="41" fill="#bcd0ee"/>
<rect x="398" y="549" width="2" height="29" fill="#bcd0ee"/>
<rect x="402" y="532" width="2" height="46" fill="#bcd0ee"/>
<rect x="406" y="535" width="2" height="43" fill="#bcd0ee"/>
<rect x="410" y="530" width="2" height="48" fill="#bcd0ee"/>
<rect x="414" y="529" width="2" height="49" fill="#bcd0ee"/>
<rect x="418" y="533" width="2" height="45" fill="#bcd0ee"/>
<rect x="422" y="536" width="2" height="42" fill="#bcd0ee"/>
<rect x="426" y="527" width="2" height="51" fill="#bcd0ee"/>
<rect x="430" y="544" width="2" height="34" fill="#bcd0ee"/>
<rect x="434" y="545" width="2" height="33" fill="#bcd0ee"/>
<rect x="438" y="538" width="2" height="40" fill="#bcd0ee"/>
<rect x="442" y="541" width="2" height="37" fill="#bcd0ee"/>
<rect x="446" y="550" width="2" height="28" fill="#bcd0ee"/>
<rect x="450" y="562" width="2" height="16" fill="#bcd0ee"/>
<rect x="454" y="547" width="2" height="31" fill="#bcd0ee"/>
<rect x="458" y="542" width="2" height="36" fill="#bcd0ee"/>
<rect x="462" y="543" width="2" height="35" fill="#bcd0ee"/>
<rect x="466" y="550" width="2" height="28" fill="#bcd0ee"/>
<rect x="470" y="551" width="2" height="27" fill="#bcd0ee"/>
<rect x="474" y="552" width="2" height="26" fill="#bcd0ee"/>
<rect x="478" y="541" width="2" height="37" fill="#bcd0ee"/>
<rect x="482" y="535" width="2" height="43" fill="#bcd0ee"/>
<rect x="486" y="536" width="2" height="42" fill="#bcd0ee"/>
<rect x="490" y="554" width="2" height="24" fill="#bcd0ee"/>
<rect x="494" y="553" width="2" height="25" fill="#bcd0ee"/>
<rect x="498" y="539" width="2" height="39" fill="#bcd0ee"/>
<rect x="502" y="549" width="2" height="29" fill="#bcd0ee"/>
<rect x="506" y="542" width="2" height="36" fill="#bcd0ee"/>
<rect x="510" y="552" width="2" height="26" fill="#bcd0ee"/>
<rect x="514" y="550" width="2" height="28" fill="#bcd0ee"/>
<rect x="518" y="546" width="2" height="32" fill="#bcd0ee"/>
<rect x="522" y="547" width="2" height="31" fill="#bcd0ee"/>
<rect x="526" y="540" width="2" height="38" fill="#bcd0ee"/>
<rect x="530" y="540" width="2" height="38" fill="#bcd0ee"/>
<rect x="534" y="552" width="2" height="26" fill="#bcd0ee"/>
<rect x="538" y="554" width="2" height="24" fill="#bcd0ee"/>
<rect x="542" y="541" width="2" height="37" fill="#bcd0ee"/>
<rect x="546" y="534" width="2" height="44" fill="#bcd0ee"/>
<rect x="550" y="543" width="2" height="35" fill="#bcd0ee"/>
<rect x="554" y="545" width="2" height="33" fill="#bcd0ee"/>
<rect x="558" y="546" width="2" height="32" fill="#bcd0ee"/>
<rect x="562" y="552" width="2" height="26" fill="#bcd0ee"/>
<rect x="566" y="552" width="2" height="26" fill="#bcd0ee"/>
<rect x="570" y="558" width="2" height="20" fill="#bcd0ee"/>
<rect x="574" y="547" width="2" height="31" fill="#bcd0ee"/>
<rect x="578" y="563" width="2" height="15" fill="#bcd0ee"/>
<rect x="582" y="565" width="2" height="13" fill="#bcd0ee"/>
<rect x="586" y="550" width="2" height="28" fill="#bcd0ee"/>
<rect x="590" y="548" width="2" height="30" fill="#bcd0ee"/>
<rect x="594" y="543" width="2" height="35" fill="#bcd0ee"/>
<rect x="598" y="523" width="2" height="55" fill="#bcd0ee"/>
<rect x="602" y="531" width="2" height="47" fill="#bcd0ee"/>
<rect x="606" y="543" width="2" height="35" fill="#bcd0ee"/>
<rect x="610" y="537" width="2" height="41" fill="#bcd0ee"/>
<rect x="614" y="523" width="2" height="55" fill="#bcd0ee"/>
<rect x="618" y="562" width="2" height="16" fill="#bcd0ee"/>
<rect x="622" y="530" width="2" height="48" fill="#bcd0ee"/>
<rect x="626" y="524" width="2" height="54" fill="#bcd0ee"/>
<rect x="630" y="534" width="2" height="44" fill="#bcd0ee"/>
<rect x="634" y="536" width="2" height="42" fill="#bcd0ee"/>
<rect x="638" y="535" width="2" height="43" fill="#bcd0ee"/>
<rect x="642" y="535" width="2" height="43" fill="#bcd0ee"/>
<rect x="646" y="552" width="2" height="26" fill="#bcd0ee"/>
<rect x="650" y="555" width="2" height="23" fill="#bcd0ee"/>
<rect x="654" y="558" width="2" height="20" fill="#bcd0ee"/>
<rect x="658" y="572" width="2" height="6" fill="#bcd0ee"/>
<rect x="662" y="564" width="2" height="14" fill="#bcd0ee"/>
<rect x="666" y="561" width="2" height="17" fill="#bcd0ee"/>
<rect x="670" y="563" width="2" height="15" fill="#bcd0ee"/>
<rect x="674" y="557" width="2" height="21" fill="#bcd0ee"/>
<rect x="678" y="533" width="2" height="45" fill="#bcd0ee"/>
<rect x="682" y="543" width="2" height="35" fill="#bcd0ee"/>
<rect x="686" y="532" width="2" height="46" fill="#bcd0ee"/>
<rect x="690" y="517" width="2" height="61" fill="#bcd0ee"/>
<rect x="694" y="523" width="2" height="55" fill="#bcd0ee"/>
<rect x="698" y="527" width="2" height="51" fill="#bcd0ee"/>
<rect x="702" y="528" width="2" height="50" fill="#bcd0ee"/>
<rect x="706" y="518" width="2" height="60" fill="#bcd0ee"/>
<rect x="710" y="515" width="2" height="63" fill="#bcd0ee"/>
<rect x="714" y="507" width="2" height="71" fill="#bcd0ee"/>
<rect x="718" y="521" width="2" height="57" fill="#bcd0ee"/>
<rect x="722" y="497" width="2" height="81" fill="#bcd0ee"/>
<rect x="726" y="522" width="2" height="56" fill="#bcd0ee"/>
<rect x="730" y="535" width="2" height="43" fill="#bcd0ee"/>
<rect x="734" y="544" width="2" height="34" fill="#bcd0ee"/>
<rect x="738" y="542" width="2" height="36" fill="#bcd0ee"/>
<rect x="742" y="535" width="2" height="43" fill="#bcd0ee"/>
<rect x="746" y="532" width="2" height="46" fill="#bcd0ee"/>
<rect x="750" y="529" width="2" height="49" fill="#bcd0ee"/>
<rect x="754" y="542" width="2" height="36" fill="#bcd0ee"/>
<rect x="758" y="535" width="2" height="43" fill="#bcd0ee"/>
<rect x="762" y="519" width="2" height="59" fill="#bcd0ee"/>
<rect x="766" y="532" width="2" height="46" fill="#bcd0ee"/>
<rect x="770" y="530" width="2" height="48" fill="#bcd0ee"/>
<rect x="774" y="523" width="2" height="55" fill="#bcd0ee"/>
<rect x="778" y="521" width="2" height="57" fill="#bcd0ee"/>
<rect x="782" y="530" width="2" height="48" fill="#bcd0ee"/>
<rect x="786" y="512" width="2" height="66" fill="#bcd0ee"/>
<rect x="790" y="537" width="2" height="41" fill="#bcd0ee"/>
<rect x="794" y="536" width="2" height="42" fill="#bcd0ee"/>
<rect x="798" y="540" width="2" height="38" fill="#bcd0ee"/>
<rect x="802" y="545" width="2" height="33" fill="#bcd0ee"/>
<rect x="806" y="545" width="2" height="33" fill="#bcd0ee"/>
<rect x="810" y="549" width="2" height="29" fill="#bcd0ee"/>
<rect x="814" y="545" width="2" height="33" fill="#bcd0ee"/>
<rect x="818" y="530" width="2" height="48" fill="#bcd0ee"/>
<rect x="822" y="540" width="2" height="38" fill="#bcd0ee"/>
<rect x="826" y="540" width="2" height="38" fill="#bcd0ee"/>
<rect x="830" y="577" width="2" height="1" fill="#bcd0ee"/>
<rect x="1" y="578" width="871" height="1" fill="#a9a9a9"/>
<rect x="0" y="458" width="872" height="1" fill="#f2f2f2"/>
<rect x="872" y="5" width="1" height="582" fill="#f2f2f2"/>
<rect x="1" y="586" width="872" height="1" fill="#f2f2f2"/>
<rect x="873" y="15" width="6" height="1" fill="#f2f2f2"/>
<rect x="873" y="41" width="6" height="1" fill="#f2f2f2"/>
<rect x="873" y="67" width="6" height="1" fill="#f2f2f2"/>
<rect x="873" y="93" width="6" height="1" fill="#f2f2f2"/>
<rect x="873" y="119" width="6" height="1" fill="#f2f2f2"/>
<rect x="873" y="145" width="6" height="1" fill="#f2f2f2"/>
<rect x="873" y="171" width="6" height="1" fill="#f2f2f2"/>
<rect x="873" y="197" width="6" height="1" fill="#f2f2f2"/>
<rect x="873" y="223" width="6" height="1" fill="#f2f2f2"/>
<rect x="873" y="249" width="6" height="1" fill="#f2f2f2"/>
<rect x="873" y="275" width="6" height="1" fill="#f2f2f2"/>
<rect x="873" y="301" width="6" height="1" fill="#f2f2f2"/>
<rect x="873" y="327" width="6" height="1" fill="#f2f2f2"/>
<rect x="873" y="353" width="6" height="1" fill="#f2f2f2"/>
<rect x="873" y="379" width="6" height="1" fill="#f2f2f2"/>
<rect x="873" y="405" width="6" height="1" fill="#f2f2f2"/>
<rect x="873" y="431" width="6" height="1" fill="#f2f2f2"/>
<rect x="873" y="475" width="6" height="1" fill="#f2f2f2"/>
<rect x="873" y="496" width="6" height="1" fill="#f2f2f2"/>
<rect x="873" y="516" width="6" height="1" fill="#f2f2f2"/>
<rect x="873" y="537" width="6" height="1" fill="#f2f2f2"/>
<rect x="873" y="558" width="6" height="1" fill="#f2f2f2"/>
<rect x="79" y="587" width="1" height="6" fill="#f2f2f2"/>
<rect x="167" y="587" width="1" height="6" fill="#f2f2f2"/>
<rect x="255" y="587" width="1" height="6" fill="#f2f2f2"/>
<rect x="339" y="587" width="1" height="6" fill="#f2f2f2"/>
<rect x="423" y="587" width="1" height="6" fill="#f2f2f2"/>
<rect x="511" y="587" width="1" height="6" fill="#f2f2f2"/>
<rect x="591" y="587" width="1" height="6" fill="#f2f2f2"/>
<rect x="679" y="587" width="1" height="6" fill="#f2f2f2"/>
<rect x="755" y="587" width="1" height="6" fill="#f2f2f2"/>
</g>
<text x="880.3" y="20" style="letter-spacing:-0.17px">2120.00</text>
<text x="880.3" y="46" style="letter-spacing:-0.17px">2100.00</text>
<text x="880.3" y="72" style="letter-spacing:-0.17px">2080.00</text>
<text x="880.3" y="98" style="letter-spacing:-0.17px">2060.00</text>
<text x="880.3" y="124" style="letter-spacing:-0.17px">2040.00</text>
<text x="880.3" y="150" style="letter-spacing:-0.17px">2020.00</text>
<text x="880.3" y="176" style="letter-spacing:-0.17px">2000.00</text>
<text x="880.3" y="202" style="letter-spacing:-0.17px">1980.00</text>
<text x="880.3" y="228" style="letter-spacing:-0.17px">1960.00</text>
<text x="880.3" y="254" style="letter-spacing:-0.17px">1940.00</text>
<text x="880.3" y="280" style="letter-spacing:-0.17px">1920.00</text>
<text x="880.3" y="306" style="letter-spacing:-0.17px">1900.00</text>
<text x="880.3" y="332" style="letter-spacing:-0.17px">1880.00</text>
<text x="880.3" y="358" style="letter-spacing:-0.17px">1860.00</text>
<text x="880.3" y="384" style="letter-spacing:-0.17px">1840.00</text>
<text x="880.3" y="410" style="letter-spacing:-0.17px">1820.00</text>
<text x="880.3" y="436" style="letter-spacing:-0.17px">1800.00</text>
<text x="880.3" y="480" style="letter-spacing:-0.1px">5000K</text>
<text x="880.3" y="501" style="letter-spacing:-0.1px">4000K</text>
<text x="880.3" y="521" style="letter-spacing:-0.1px">3000K</text>
<text x="880.3" y="542" style="letter-spacing:-0.1px">2000K</text>
<text x="880.3" y="563" style="letter-spacing:-0.1px">1000K</text>
<text x="79.5" y="603" text-anchor="middle">Jun</text>
<text x="167.5" y="603" text-anchor="middle">Jul</text>
<text x="255.5" y="603" text-anchor="middle">Aug</text>
<text x="339.5" y="603" text-anchor="middle">Sep</text>
<text x="423.5" y="603" text-anchor="middle">Oct</text>
<text x="511.5" y="603" text-anchor="middle">Nov</text>
<text x="591.5" y="603" text-anchor="middle">Dec</text>
<text x="679.5" y="603" text-anchor="middle">16</text>
<text x="755.5" y="603" text-anchor="middle">Feb</text>
<polygon points="873.5,249 879.5,242.5 921.5,242.5 921.5,255.5 879.5,255.5" fill="#000" stroke="#fff" stroke-width="1"/>
<text x="881.2" y="253" style="letter-spacing:-0.17px">1940.25</text>
<polygon points="873.5,577.5 879.5,570.5 912.5,570.5 912.5,583.5 879.5,583.5" fill="#b0c4de" stroke="#fff" stroke-width="1"/>
<text x="881.2" y="581.5" style="fill:#000;letter-spacing:-0.15px">61650</text>
<text x="3" y="480" style="letter-spacing:0.08px">VOL(ES ##-## (Daily))</text>
<text x="3" y="584" style="fill:#000;stroke:#000;stroke-width:1.6px;stroke-linejoin:round;letter-spacing:0.11px">© 2016 NinjaTrader, LLC</text>
<text x="3" y="584" style="fill:#fff;letter-spacing:0.11px">© 2016 NinjaTrader, LLC</text>
</svg></body></html>
